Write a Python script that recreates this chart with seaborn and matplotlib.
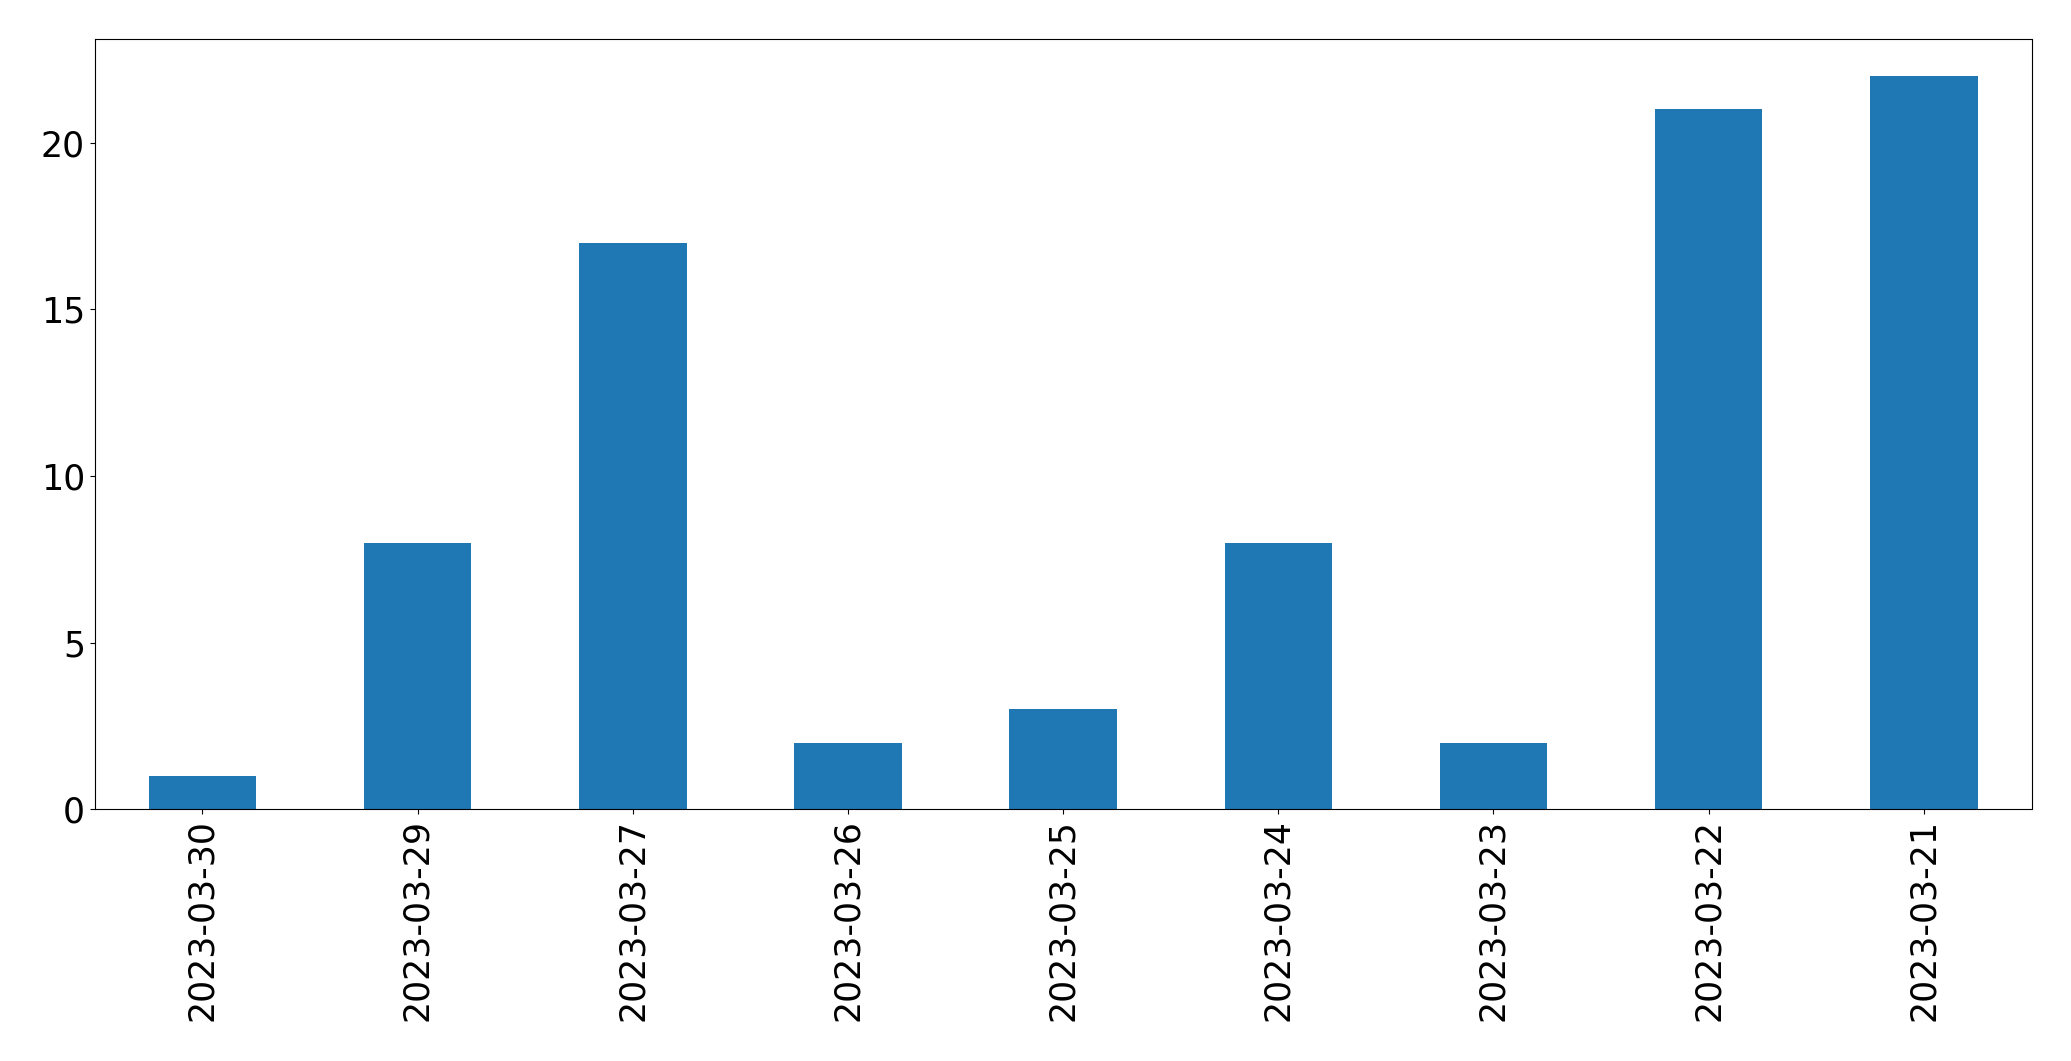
import matplotlib
matplotlib.use("Agg")
import matplotlib.pyplot as plt
import seaborn as sns
import pandas as pd

# dates as they appear on the x axis (most recent first)
dates = [
    "2023-03-30",
    "2023-03-29",
    "2023-03-27",
    "2023-03-26",
    "2023-03-25",
    "2023-03-24",
    "2023-03-23",
    "2023-03-22",
    "2023-03-21",
]
counts = [1, 8, 17, 2, 3, 8, 2, 21, 22]

df = pd.DataFrame({"date": dates, "count": counts})

fig, ax = plt.subplots(figsize=(20.71, 10.61), dpi=100)
fig.subplots_adjust(left=94.7 / 2071, right=2031.5 / 2071,
                    top=1 - 39.3 / 1061, bottom=1 - 809.3 / 1061)

sns.barplot(
    data=df,
    x="date",
    y="count",
    color="#1f77b4",
    saturation=1,
    width=0.5,
    ax=ax,
)

ax.set_xlim(-0.5, len(dates) - 0.5)
ax.set_xlabel("")
ax.set_ylabel("")
ax.set_yticks([0, 5, 10, 15, 20])
# slightly larger tick labels than default
ax.tick_params(axis="x", labelrotation=90, labelsize=25)
ax.tick_params(axis="y", labelsize=25)

fig.savefig("out.png", dpi=100)
